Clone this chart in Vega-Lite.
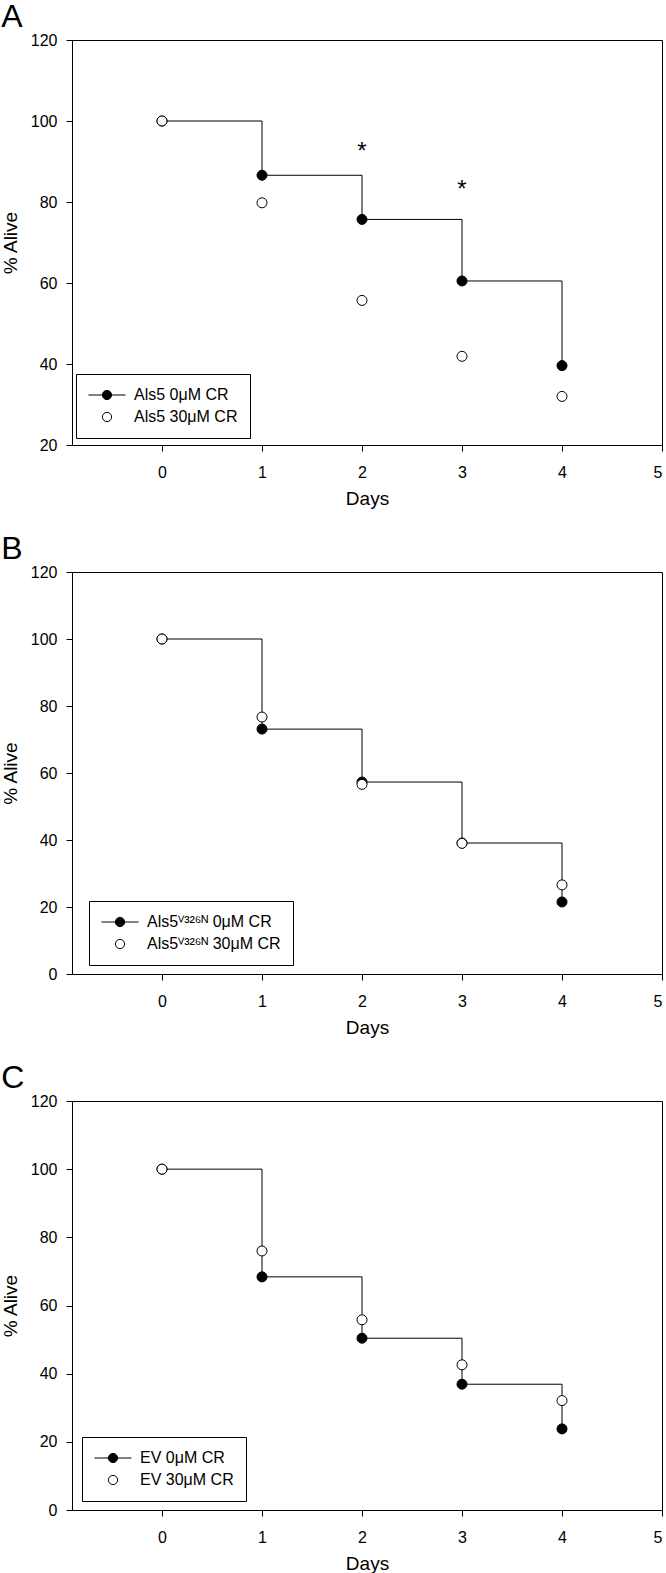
{
  "$schema": "https://vega.github.io/schema/vega-lite/v6.json",
  "padding": 0,
  "background": "white",
  "columns": 1,
  "spacing": 23,
  "resolve": {"scale": {"fill": "independent", "shape": "independent"}, "legend": {"fill": "independent", "shape": "independent"}},
  "config": {
    "font": "Liberation Sans",
    "view": {"stroke": "black", "strokeWidth": 1},
    "axis": {
      "domainColor": "black", "tickColor": "black", "labelColor": "black", "titleColor": "black",
      "labelFontSize": 16, "titleFontSize": 19, "titleFontWeight": "normal", "grid": false,
      "tickSize": 6, "labelFont": "Liberation Sans", "titleFont": "Liberation Sans"
    },
    "axisX": {"labelPadding": 13, "titlePadding": 9},
    "axisY": {"labelPadding": 9, "titlePadding": 10},
    "title": {"fontSize": 32, "fontWeight": "normal", "anchor": "start", "frame": "bounds", "color": "black", "offset": -2, "font": "Liberation Sans"},
    "legend": {
      "title": null, "orient": "none", "strokeColor": "black", "padding": 12,
      "symbolSize": 1369, "clipHeight": 18, "rowPadding": 4, "labelFontSize": 16, "labelOffset": 8,
      "labelColor": "black", "labelFont": "Liberation Sans", "symbolStrokeColor": "black", "symbolStrokeWidth": 1, "labelLimit": 300
    }
  },
  "datasets": {
    "A": [
      {"series": "Als5 0μM CR", "dose": "0", "day": 0, "pct": 100},
      {"series": "Als5 0μM CR", "dose": "0", "day": 1, "pct": 86.6},
      {"series": "Als5 0μM CR", "dose": "0", "day": 2, "pct": 75.7},
      {"series": "Als5 0μM CR", "dose": "0", "day": 3, "pct": 60.5},
      {"series": "Als5 0μM CR", "dose": "0", "day": 4, "pct": 39.6},
      {"series": "Als5 30μM CR", "dose": "30", "day": 0, "pct": 100},
      {"series": "Als5 30μM CR", "dose": "30", "day": 1, "pct": 79.8},
      {"series": "Als5 30μM CR", "dose": "30", "day": 2, "pct": 55.7},
      {"series": "Als5 30μM CR", "dose": "30", "day": 3, "pct": 41.9},
      {"series": "Als5 30μM CR", "dose": "30", "day": 4, "pct": 32.0}
    ],
    "Astars": [
      {"day": 2, "pct": 93.5, "sig": "*"},
      {"day": 3, "pct": 84.2, "sig": "*"}
    ],
    "B": [
      {"series": "Als5ⱽ³²⁶ᴺ 0μM CR", "dose": "0", "day": 0, "pct": 100},
      {"series": "Als5ⱽ³²⁶ᴺ 0μM CR", "dose": "0", "day": 1, "pct": 73.1},
      {"series": "Als5ⱽ³²⁶ᴺ 0μM CR", "dose": "0", "day": 2, "pct": 57.3},
      {"series": "Als5ⱽ³²⁶ᴺ 0μM CR", "dose": "0", "day": 3, "pct": 39.1},
      {"series": "Als5ⱽ³²⁶ᴺ 0μM CR", "dose": "0", "day": 4, "pct": 21.5},
      {"series": "Als5ⱽ³²⁶ᴺ 30μM CR", "dose": "30", "day": 0, "pct": 100},
      {"series": "Als5ⱽ³²⁶ᴺ 30μM CR", "dose": "30", "day": 1, "pct": 76.7},
      {"series": "Als5ⱽ³²⁶ᴺ 30μM CR", "dose": "30", "day": 2, "pct": 56.6},
      {"series": "Als5ⱽ³²⁶ᴺ 30μM CR", "dose": "30", "day": 3, "pct": 39.0},
      {"series": "Als5ⱽ³²⁶ᴺ 30μM CR", "dose": "30", "day": 4, "pct": 26.6}
    ],
    "C": [
      {"series": "EV 0μM CR", "dose": "0", "day": 0, "pct": 100},
      {"series": "EV 0μM CR", "dose": "0", "day": 1, "pct": 68.4},
      {"series": "EV 0μM CR", "dose": "0", "day": 2, "pct": 50.4},
      {"series": "EV 0μM CR", "dose": "0", "day": 3, "pct": 36.9},
      {"series": "EV 0μM CR", "dose": "0", "day": 4, "pct": 23.8},
      {"series": "EV 30μM CR", "dose": "30", "day": 0, "pct": 100},
      {"series": "EV 30μM CR", "dose": "30", "day": 1, "pct": 76.0},
      {"series": "EV 30μM CR", "dose": "30", "day": 2, "pct": 55.8},
      {"series": "EV 30μM CR", "dose": "30", "day": 3, "pct": 42.6},
      {"series": "EV 30μM CR", "dose": "30", "day": 4, "pct": 32.1}
    ]
  },
  "concat": [
    {
      "title": {"text": "A"},
      "width": 590, "height": 405,
      "layer": [
        {
          "data": {"name": "A"},
          "transform": [{"filter": "datum.dose === '0'"}],
          "mark": {"type": "line", "interpolate": "step-after", "color": "black", "strokeWidth": 1},
          "encoding": {
            "x": {"field": "day", "type": "quantitative", "scale": {"domain": [-0.9, 5], "nice": false, "zero": false}, "axis": {"title": "Days", "values": [0, 1, 2, 3, 4, 5], "format": "d"}},
            "y": {"field": "pct", "type": "quantitative", "scale": {"domain": [20, 120], "nice": false, "zero": false}, "axis": {"title": "% Alive", "values": [20, 40, 60, 80, 100, 120]}}
          }
        },
        {
          "data": {"name": "A"},
          "mark": {"type": "point", "shape": "circle", "filled": true, "size": 100, "stroke": "black", "strokeWidth": 1, "opacity": 1},
          "encoding": {
            "x": {"field": "day", "type": "quantitative"},
            "y": {"field": "pct", "type": "quantitative"},
            "fill": {"field": "series", "type": "nominal", "scale": {"domain": ["Als5 0μM CR", "Als5 30μM CR"], "range": ["black", "white"]}, "legend": {"legendX": 4, "legendY": 334}}
          }
        },
        {
          "data": {"name": "A"},
          "transform": [{"filter": "false"}],
          "mark": {"type": "point", "filled": true, "stroke": "black", "strokeWidth": 1, "opacity": 1},
          "encoding": {
            "x": {"field": "day", "type": "quantitative"},
            "y": {"field": "pct", "type": "quantitative"},
            "fill": {"field": "series", "type": "nominal", "legend": {"legendX": 4, "legendY": 334}},
            "shape": {"field": "series", "type": "nominal", "scale": {"domain": ["Als5 0μM CR", "Als5 30μM CR"], "range": ["M-1,0H1M0.25,0A0.25,0.25,0,1,1,-0.25,0A0.25,0.25,0,1,1,0.25,0Z", "M0.25,0A0.25,0.25,0,1,1,-0.25,0A0.25,0.25,0,1,1,0.25,0Z"]}, "legend": {"legendX": 4, "legendY": 334}}
          }
        },
        {
          "data": {"name": "Astars"},
          "mark": {"type": "text", "fontSize": 24, "baseline": "alphabetic", "dy": 12, "color": "black", "font": "Liberation Sans"},
          "encoding": {
            "x": {"field": "day", "type": "quantitative"},
            "y": {"field": "pct", "type": "quantitative"},
            "text": {"field": "sig"}
          }
        }
      ]
    },
    {
      "title": {"text": "B"},
      "width": 590, "height": 402,
      "layer": [
        {
          "data": {"name": "B"},
          "transform": [{"filter": "datum.dose === '0'"}],
          "mark": {"type": "line", "interpolate": "step-after", "color": "black", "strokeWidth": 1},
          "encoding": {
            "x": {"field": "day", "type": "quantitative", "scale": {"domain": [-0.9, 5], "nice": false, "zero": false}, "axis": {"title": "Days", "values": [0, 1, 2, 3, 4, 5], "format": "d"}},
            "y": {"field": "pct", "type": "quantitative", "scale": {"domain": [0, 120], "nice": false}, "axis": {"title": "% Alive", "values": [0, 20, 40, 60, 80, 100, 120]}}
          }
        },
        {
          "data": {"name": "B"},
          "mark": {"type": "point", "shape": "circle", "filled": true, "size": 100, "stroke": "black", "strokeWidth": 1, "opacity": 1},
          "encoding": {
            "x": {"field": "day", "type": "quantitative"},
            "y": {"field": "pct", "type": "quantitative"},
            "fill": {"field": "series", "type": "nominal", "scale": {"domain": ["Als5ⱽ³²⁶ᴺ 0μM CR", "Als5ⱽ³²⁶ᴺ 30μM CR"], "range": ["black", "white"]}, "legend": {"legendX": 17, "legendY": 329}}
          }
        },
        {
          "data": {"name": "B"},
          "transform": [{"filter": "false"}],
          "mark": {"type": "point", "filled": true, "stroke": "black", "strokeWidth": 1, "opacity": 1},
          "encoding": {
            "x": {"field": "day", "type": "quantitative"},
            "y": {"field": "pct", "type": "quantitative"},
            "fill": {"field": "series", "type": "nominal", "legend": {"legendX": 17, "legendY": 329}},
            "shape": {"field": "series", "type": "nominal", "scale": {"domain": ["Als5ⱽ³²⁶ᴺ 0μM CR", "Als5ⱽ³²⁶ᴺ 30μM CR"], "range": ["M-1,0H1M0.25,0A0.25,0.25,0,1,1,-0.25,0A0.25,0.25,0,1,1,0.25,0Z", "M0.25,0A0.25,0.25,0,1,1,-0.25,0A0.25,0.25,0,1,1,0.25,0Z"]}, "legend": {"legendX": 17, "legendY": 329}}
          }
        }
      ]
    },
    {
      "title": {"text": "C"},
      "width": 590, "height": 409,
      "layer": [
        {
          "data": {"name": "C"},
          "transform": [{"filter": "datum.dose === '0'"}],
          "mark": {"type": "line", "interpolate": "step-after", "color": "black", "strokeWidth": 1},
          "encoding": {
            "x": {"field": "day", "type": "quantitative", "scale": {"domain": [-0.9, 5], "nice": false, "zero": false}, "axis": {"title": "Days", "values": [0, 1, 2, 3, 4, 5], "format": "d"}},
            "y": {"field": "pct", "type": "quantitative", "scale": {"domain": [0, 120], "nice": false}, "axis": {"title": "% Alive", "values": [0, 20, 40, 60, 80, 100, 120]}}
          }
        },
        {
          "data": {"name": "C"},
          "mark": {"type": "point", "shape": "circle", "filled": true, "size": 100, "stroke": "black", "strokeWidth": 1, "opacity": 1},
          "encoding": {
            "x": {"field": "day", "type": "quantitative"},
            "y": {"field": "pct", "type": "quantitative"},
            "fill": {"field": "series", "type": "nominal", "scale": {"domain": ["EV 0μM CR", "EV 30μM CR"], "range": ["black", "white"]}, "legend": {"legendX": 10, "legendY": 336}}
          }
        },
        {
          "data": {"name": "C"},
          "transform": [{"filter": "false"}],
          "mark": {"type": "point", "filled": true, "stroke": "black", "strokeWidth": 1, "opacity": 1},
          "encoding": {
            "x": {"field": "day", "type": "quantitative"},
            "y": {"field": "pct", "type": "quantitative"},
            "fill": {"field": "series", "type": "nominal", "legend": {"legendX": 10, "legendY": 336}},
            "shape": {"field": "series", "type": "nominal", "scale": {"domain": ["EV 0μM CR", "EV 30μM CR"], "range": ["M-1,0H1M0.25,0A0.25,0.25,0,1,1,-0.25,0A0.25,0.25,0,1,1,0.25,0Z", "M0.25,0A0.25,0.25,0,1,1,-0.25,0A0.25,0.25,0,1,1,0.25,0Z"]}, "legend": {"legendX": 10, "legendY": 336}}
          }
        }
      ]
    }
  ]
}
